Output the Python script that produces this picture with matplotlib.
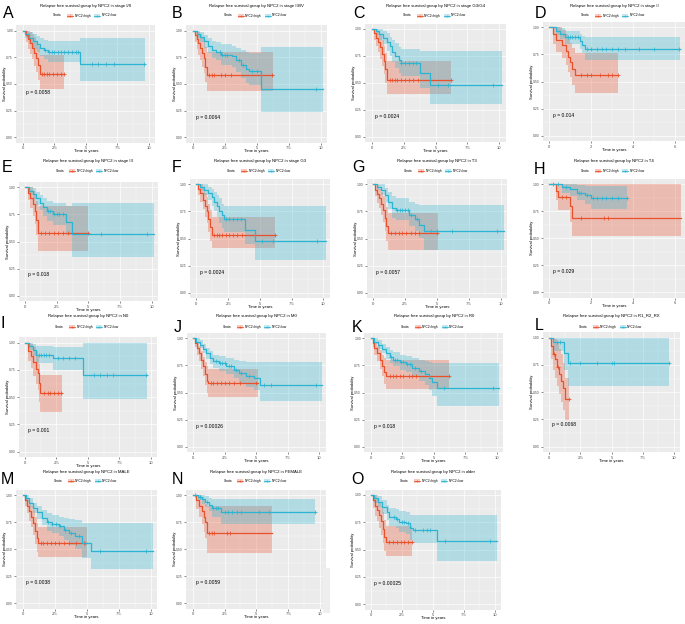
import numpy as np
import matplotlib.pyplot as plt
from matplotlib.patches import Rectangle

plt.rcParams['font.family'] = ['Liberation Sans', 'DejaVu Sans']

RED = '#E8512B'
BLUE = '#2BB5D3'
BG = '#EBEBEB'

letters = list('ABCDEFGHIJKLMNO')
subsets = ['stage I/II', 'stage III/IV', 'stage G3/G4', 'stage II', 'stage III', 'stage G3',
           'T3', 'T4', 'N0', 'M0', 'R0', 'R1_R2_RX', 'MALE', 'FEMALE', 'older']
pvals = ['0.0058', '0.0064', '0.0024', '0.014', '0.018', '0.0024', '0.0057', '0.029',
         '0.001', '0.00026', '0.018', '0.0068', '0.0038', '0.0059', '0.00025']
p_y = [0.42, 0.19, 0.19, 0.19, 0.20, 0.19, 0.19, 0.19, 0.195, 0.19, 0.19, 0.20, 0.19, 0.19, 0.19]
x_max = [10, 10, 10, 6, 10, 10, 10, 6, 10, 10, 10, 10, 10, 10, 10]

# each curve: rows of (time, survival, lower CI, upper CI); last row = end of follow-up
A_high = [(0, 1, 1, 1), (0.25, .96, .89, 1), (0.45, .92, .83, 1), (0.6, .88, .78, .99), (0.75, .84, .73, .97),
          (0.9, .79, .67, .94), (1.05, .74, .61, .9), (1.2, .68, .54, .86), (1.35, .59, .45, .77), (3.3, .59, .45, .77)]
A_high_cens = [1.5, 1.7, 1.9, 2.1, 2.4, 2.7, 3.0, 3.3]
A_low = [(0, 1, 1, 1), (0.2, .97, .93, 1), (0.5, .93, .87, .99), (0.8, .9, .83, .97), (1.1, .87, .8, .95),
         (1.4, .84, .76, .93), (1.7, .82, .73, .91), (2.0, .8, .71, .9), (4.55, .69, .53, .93), (9.7, .69, .53, .93)]
A_low_cens = [1.8, 2.1, 2.3, 2.5, 2.8, 3.0, 3.3, 3.6, 3.9, 4.2, 4.4, 5.5, 6.0, 6.6, 7.2, 9.6]

B_high = [(0, 1, 1, 1), (0.15, .96, .89, 1), (0.3, .92, .83, 1), (0.45, .88, .77, .99), (0.55, .84, .72, .97),
          (0.75, .79, .66, .94), (0.85, .74, .6, .91), (0.95, .66, .52, .85), (1.1, .58, .43, .8), (6.25, .58, .43, .8)]
B_high_cens = [1.3, 1.5, 1.7, 2.2, 2.5, 3.0, 6.2]
B_low = [(0, 1, 1, 1), (0.3, .97, .93, 1), (0.6, .94, .89, .99), (0.9, .9, .84, .96), (1.2, .86, .79, .93),
         (1.5, .82, .74, .9), (1.8, .8, .72, .89), (2.2, .77, .68, .87), (3.1, .76, .66, .86), (3.4, .72, .61, .84),
         (3.8, .68, .56, .82), (4.2, .64, .51, .8), (4.4, .62, .49, .79), (5.3, .45, .24, .85), (10.2, .45, .24, .85)]
B_low_cens = [2.1, 2.3, 2.5, 2.7, 3.6, 3.9, 4.6, 5.0, 9.6]

C_high = [(0, 1, 1, 1), (0.2, .96, .9, 1), (0.35, .92, .84, 1), (0.5, .88, .79, .98), (0.65, .83, .72, .95),
          (0.8, .77, .66, .9), (0.95, .7, .58, .84), (1.05, .63, .5, .78), (1.2, .53, .4, .7), (6.2, .53, .4, .7)]
C_high_cens = [1.4, 1.6, 1.8, 2.0, 2.3, 2.6, 2.9, 3.2, 3.6, 6.2]
C_low = [(0, 1, 1, 1), (0.3, .98, .94, 1), (0.6, .95, .9, 1), (0.9, .92, .86, .98), (1.2, .88, .8, .96),
         (1.4, .84, .75, .93), (1.6, .79, .69, .9), (1.8, .75, .64, .87), (2.1, .71, .59, .83), (2.3, .68, .56, .81),
         (3.8, .59, .45, .8), (4.6, .48, .3, .8), (10.2, .48, .3, .8)]
C_low_cens = [2.3, 2.6, 2.9, 3.2, 3.5, 5.2, 6.0, 9.5]

D_high = [(0, 1, 1, 1), (0.2, .94, .85, 1), (0.3, .88, .77, 1), (0.6, .84, .72, .98), (0.8, .78, .65, .94),
          (0.9, .73, .59, .9), (1.0, .68, .54, .86), (1.1, .62, .47, .81), (1.25, .56, .4, .76), (3.3, .56, .4, .76)]
D_high_cens = [1.5, 1.8, 2.0, 2.4, 2.8, 3.0, 3.3]
D_low = [(0, 1, 1, 1), (0.3, .97, .93, 1), (0.5, .94, .89, .99), (0.75, .91, .85, .97), (1.45, .87, .8, .94),
         (1.55, .84, .76, .92), (1.7, .8, .7, .91), (6.25, .8, .7, .91)]
D_low_cens = [0.9, 1.0, 1.1, 1.25, 1.35, 1.8, 2.0, 2.3, 2.5, 2.7, 3.0, 3.3, 3.6, 4.3, 5.0, 6.2]

E_high = [(0, 1, 1, 1), (0.2, .95, .88, 1), (0.4, .9, .81, 1), (0.6, .85, .74, .97), (0.75, .78, .66, .93),
          (0.9, .7, .56, .87), (1.0, .58, .41, .83), (5.0, .58, .41, .83)]
E_high_cens = [1.3, 1.6, 1.9, 2.3, 2.6, 3.0, 3.4, 5.0]
E_low = [(0, 1, 1, 1), (0.3, .97, .93, 1), (0.6, .94, .89, .99), (0.9, .9, .84, .96), (1.2, .86, .79, .93),
         (1.4, .82, .74, .9), (1.7, .78, .69, .87), (2.2, .75, .65, .86), (3.2, .68, .56, .83), (3.7, .57, .36, .86),
         (10.2, .57, .36, .86)]
E_low_cens = [1.8, 2.0, 2.3, 2.5, 2.7, 3.0, 6.0, 9.6]

F_high = [(0, 1, 1, 1), (0.15, .96, .9, 1), (0.3, .92, .84, 1), (0.5, .86, .77, .97), (0.65, .8, .7, .92),
          (0.8, .75, .64, .88), (0.95, .68, .56, .82), (1.05, .61, .48, .76), (1.2, .535, .41, .7), (6.2, .535, .41, .7)]
F_high_cens = [1.4, 1.6, 1.8, 2.0, 2.3, 2.6, 2.9, 3.2, 3.6, 6.2]
F_low = [(0, 1, 1, 1), (0.3, .98, .94, 1), (0.6, .95, .9, 1), (0.9, .92, .86, .98), (1.2, .88, .8, .96),
         (1.4, .84, .75, .93), (1.6, .8, .7, .9), (1.8, .75, .64, .87), (2.0, .72, .6, .82), (2.2, .68, .56, .8),
         (3.8, .58, .45, .8), (4.6, .48, .3, .8), (10.2, .48, .3, .8)]
F_low_cens = [2.3, 2.6, 2.9, 3.2, 3.5, 5.2, 6.0, 9.5]

G_high = [(0, 1, 1, 1), (0.15, .95, .89, 1), (0.3, .91, .83, .99), (0.45, .87, .78, .96), (0.6, .82, .72, .93),
          (0.75, .76, .65, .89), (0.9, .69, .57, .84), (1.05, .62, .48, .79), (1.15, .55, .4, .74), (5.1, .55, .4, .74)]
G_high_cens = [1.4, 1.7, 2.0, 2.3, 2.6, 3.0, 3.3, 3.6, 5.0]
G_low = [(0, 1, 1, 1), (0.3, .98, .95, 1), (0.6, .95, .9, 1), (0.9, .9, .84, .97), (1.2, .84, .77, .93),
         (1.5, .78, .69, .89), (1.8, .76, .67, .87), (2.8, .72, .62, .84), (3.3, .68, .57, .82), (3.6, .63, .51, .81),
         (4.0, .57, .4, .81), (10.2, .57, .4, .81)]
G_low_cens = [1.9, 2.1, 2.3, 2.5, 2.7, 3.0, 3.4, 4.5, 5.0, 6.2, 9.7]

H_high = [(0, 1, 1, 1), (0.3, .94, .85, 1), (0.4, .88, .76, 1), (1.0, .8, .65, 1), (1.1, .69, .52, 1), (6.3, .69, .52, 1)]
H_high_cens = [0.6, 0.8, 1.5, 2.6, 2.8]
H_low = [(0, 1, 1, 1), (0.6, .97, .92, 1), (1.0, .95, .89, 1), (1.3, .92, .85, .99), (1.7, .9, .82, .98),
         (2.0, .87, .77, .98), (3.7, .87, .77, .98)]
H_low_cens = [0.2, 0.4, 0.8, 1.4, 1.5, 1.8, 2.1, 2.3, 2.5, 2.7, 3.0, 3.3, 3.7]

I_high = [(0, 1, 1, 1), (0.25, .92, .83, 1), (0.45, .88, .77, .99), (0.65, .82, .69, .96), (0.85, .76, .62, .92),
          (1.0, .72, .57, .88), (1.1, .63, .46, .8), (1.2, .54, .36, .7), (2.95, .54, .36, .7)]
I_high_cens = [1.5, 1.8, 2.0, 2.3, 2.6, 2.9]
I_low = [(0, 1, 1, 1), (0.3, .97, .93, 1), (0.6, .93, .88, .99), (0.9, .89, .81, .97), (2.2, .86, .75, .96),
         (4.6, .7, .48, 1), (9.7, .7, .48, 1)]
I_low_cens = [1.1, 1.3, 1.5, 1.7, 1.9, 2.6, 3.0, 3.5, 4.0, 5.5, 6.0, 6.5, 7.0, 9.6]

J_high = [(0, 1, 1, 1), (0.15, .96, .92, 1), (0.3, .91, .85, .97), (0.45, .86, .79, .93), (0.6, .8, .72, .88),
          (0.75, .74, .65, .83), (0.9, .67, .57, .78), (1.05, .61, .5, .74), (1.2, .585, .46, .72), (5.1, .585, .46, .72)]
J_high_cens = [1.4, 1.6, 1.9, 2.2, 2.5, 2.8, 3.2, 3.7, 5.0]
J_low = [(0, 1, 1, 1), (0.25, .97, .95, 1), (0.5, .94, .91, .98), (0.75, .9, .86, .95), (1.0, .86, .81, .91),
         (1.3, .82, .76, .88), (1.6, .79, .73, .85), (2.0, .77, .7, .84), (2.6, .74, .67, .82), (3.2, .71, .63, .8),
         (3.6, .68, .59, .79), (4.2, .65, .55, .78), (4.8, .63, .52, .78), (5.3, .57, .42, .78), (10.2, .57, .42, .78)]
J_low_cens = [1.8, 2.1, 2.3, 2.5, 2.8, 3.0, 3.4, 3.8, 4.4, 5.6, 6.2, 9.7]

K_high = [(0, 1, 1, 1), (0.15, .96, .92, 1), (0.3, .91, .85, .97), (0.5, .86, .79, .93), (0.7, .8, .72, .89),
          (0.9, .74, .65, .85), (1.05, .69, .58, .82), (1.2, .65, .53, .8), (6.2, .65, .53, .8)]
K_high_cens = [1.5, 1.8, 2.0, 2.3, 2.6, 3.0, 3.3, 3.6, 4.6, 6.2]
K_low = [(0, 1, 1, 1), (0.3, .97, .95, 1), (0.6, .94, .9, .98), (0.9, .9, .86, .95), (1.2, .86, .81, .92),
         (1.5, .83, .77, .89), (1.8, .8, .74, .87), (2.3, .78, .71, .85), (2.8, .76, .69, .84), (3.3, .73, .65, .82),
         (3.8, .7, .61, .8), (4.3, .67, .57, .79), (4.6, .63, .52, .78), (4.9, .6, .47, .77), (5.3, .54, .38, .77),
         (10.2, .54, .38, .77)]
K_low_cens = [1.6, 1.9, 2.1, 2.4, 2.6, 2.9, 3.1, 3.5, 4.0, 5.8, 9.7]

L_high = [(0, 1, 1, 1), (0.15, .92, .8, 1), (0.3, .85, .7, 1), (0.5, .8, .63, .99), (0.65, .73, .56, .95),
          (0.8, .67, .48, .9), (0.95, .6, .41, .85), (1.1, .54, .34, .77), (1.3, .44, .24, .63), (1.6, .44, .24, .63)]
L_high_cens = [0.4, 0.7, 1.6]
L_low = [(0, 1, 1, 1), (0.3, .96, .88, 1), (1.2, .86, .7, 1), (1.5, .77, .56, 1), (9.6, .77, .56, 1)]
L_low_cens = [0.6, 0.9, 1.7, 2.5, 3.8, 5.0, 5.2, 9.6]

M_high = [(0, 1, 1, 1), (0.2, .95, .9, 1), (0.35, .9, .83, .97), (0.5, .85, .76, .94), (0.65, .8, .7, .9),
          (0.8, .74, .63, .86), (0.95, .67, .55, .8), (1.1, .6, .47, .74), (1.2, .56, .43, .7), (5.0, .56, .43, .7)]
M_high_cens = [1.4, 1.6, 1.9, 2.2, 2.5, 2.8, 3.2, 3.6, 4.2, 4.8]
M_low = [(0, 1, 1, 1), (0.25, .97, .94, 1), (0.5, .93, .89, .97), (0.8, .88, .83, .93), (1.1, .84, .78, .9),
         (1.5, .79, .72, .86), (1.9, .75, .67, .83), (2.3, .73, .65, .82), (2.8, .71, .62, .8), (3.2, .68, .58, .79),
         (3.6, .65, .54, .78), (4.1, .62, .5, .77), (4.6, .56, .42, .74), (5.3, .48, .32, .74), (10.2, .48, .32, .74)]
M_low_cens = [2.0, 2.3, 2.6, 2.9, 3.3, 3.8, 4.4, 4.9, 6.0, 9.6]

N_high = [(0, 1, 1, 1), (0.3, .95, .87, 1), (0.5, .9, .8, 1), (0.75, .85, .73, .98), (0.9, .8, .66, .95),
          (1.0, .75, .6, .92), (1.1, .65, .46, .9), (6.2, .65, .46, .9)]
N_high_cens = [1.3, 1.5, 1.7, 2.7, 2.9]
N_low = [(0, 1, 1, 1), (0.4, .98, .95, 1), (0.7, .96, .92, 1), (1.0, .94, .89, .99), (1.3, .91, .85, .97),
         (1.5, .88, .8, .96), (2.2, .84, .73, .96), (9.6, .84, .73, .96)]
N_low_cens = [0.2, 0.6, 1.1, 1.6, 1.8, 2.0, 2.5, 2.8, 3.1, 3.5, 3.8, 5.2, 6.0, 9.6]

O_high = [(0, 1, 1, 1), (0.2, .95, .88, 1), (0.35, .9, .81, 1), (0.5, .86, .76, .97), (0.65, .82, .7, .94),
          (0.8, .76, .63, .9), (0.95, .69, .56, .84), (1.1, .62, .49, .77), (1.25, .57, .44, .72), (3.3, .57, .44, .72)]
O_high_cens = [1.5, 1.8, 2.1, 2.4, 2.7, 3.0, 3.3]
O_low = [(0, 1, 1, 1), (0.3, .97, .93, 1), (0.6, .94, .89, .99), (0.9, .89, .83, .95), (1.3, .84, .77, .91),
         (1.5, .8, .72, .88), (2.0, .78, .7, .87), (2.3, .75, .66, .85), (2.8, .74, .64, .84), (3.2, .7, .59, .82),
         (3.4, .68, .56, .82), (5.3, .58, .4, .82), (10.2, .58, .4, .82)]
O_low_cens = [1.9, 2.1, 2.5, 2.7, 3.0, 3.6, 4.2, 4.5, 4.8, 6.0, 9.6]

curves = [(A_high, A_high_cens, A_low, A_low_cens), (B_high, B_high_cens, B_low, B_low_cens),
          (C_high, C_high_cens, C_low, C_low_cens), (D_high, D_high_cens, D_low, D_low_cens),
          (E_high, E_high_cens, E_low, E_low_cens), (F_high, F_high_cens, F_low, F_low_cens),
          (G_high, G_high_cens, G_low, G_low_cens), (H_high, H_high_cens, H_low, H_low_cens),
          (I_high, I_high_cens, I_low, I_low_cens), (J_high, J_high_cens, J_low, J_low_cens),
          (K_high, K_high_cens, K_low, K_low_cens), (L_high, L_high_cens, L_low, L_low_cens),
          (M_high, M_high_cens, M_low, M_low_cens), (N_high, N_high_cens, N_low, N_low_cens),
          (O_high, O_high_cens, O_low, O_low_cens)]

# layout in pixels: grey panel box (left, top, right, bottom)
boxes = [(16.4, 25.3, 155.3, 142.6), (186.3, 25.3, 327.1, 142.6), (365.3, 23.6, 505.8, 142.1), (542.8, 21.9, 685.7, 141.4),
         (18.7, 181.9, 158, 301.4), (190, 178.9, 329.8, 298.4), (366.6, 178.9, 507.4, 298.4), (542.8, 178.6, 685.7, 297.7),
         (18.7, 337.2, 157, 457.1), (187, 332.9, 325.6, 452.1), (364.4, 332.9, 503, 452.1), (543, 332.2, 680.2, 452.1),
         (16.3, 489.6, 157.1, 608.7), (186.3, 489.6, 326.4, 608.7), (364.5, 489.5, 501.2, 609.8)]
letter_pos = [(8, 14), (177, 14), (359, 14), (541, 14), (7, 168), (177, 167), (359, 167), (540, 169),
              (3, 323), (178, 327), (357, 327), (539, 326), (7, 480), (177, 480), (357, 480)]
title_y = [6, 161, 316, 472]
legend_y = [15.5, 171, 327, 481]

W, H = 685, 624
fig = plt.figure(figsize=(W / 100, H / 100), dpi=100)


def draw_curve(ax, rows, cens, color):
    t = np.array([r[0] for r in rows])
    s = np.array([r[1] for r in rows])
    lo = np.array([r[2] for r in rows])
    hi = np.array([r[3] for r in rows])
    ax.fill_between(t, lo, hi, step='post', color=color, alpha=0.3, lw=0)
    ax.step(t, s, where='post', color=color, lw=0.9)
    idx = np.searchsorted(t, cens, side='right') - 1
    ax.plot(cens, s[idx], '+', color=color, ms=2.4, mew=0.55)


for i in range(15):
    l, t, r, b = boxes[i]
    ax = fig.add_axes([l / W, 1 - b / H, (r - l) / W, (b - t) / H])
    ax.set_facecolor(BG)
    X = x_max[i]
    xmx = 10.0 if X == 10 else 6.2
    ax.set_xlim(-0.05 * xmx, 1.05 * xmx)
    ax.set_ylim(-0.05, 1.05)
    if X == 10:
        ax.set_xticks([0, 2.5, 5, 7.5, 10])
        ax.set_xticklabels(['0', '2.5', '5', '7.5', '10'])
        ax.set_xticks([1.25, 3.75, 6.25, 8.75], minor=True)
    else:
        ax.set_xticks([0, 2, 4, 6])
        ax.set_xticks([1, 3, 5], minor=True)
    ax.set_yticks([0, 0.25, 0.5, 0.75, 1.0])
    ax.set_yticklabels(['0.00', '0.25', '0.50', '0.75', '1.00'])
    ax.set_yticks([0.125, 0.375, 0.625, 0.875], minor=True)
    ax.grid(True, which='major', color='white', lw=0.5)
    ax.grid(True, which='minor', color='white', lw=0.25)
    ax.set_axisbelow(True)
    for sp in ax.spines.values():
        sp.set_visible(False)
    ax.tick_params(which='major', length=1.5, width=0.4, color='#333333', pad=1,
                   labelsize=2.4, labelcolor='#4D4D4D')
    ax.tick_params(which='minor', length=0)
    ax.tick_params(axis='x', labelsize=3.0)

    hi_rows, hi_cens, lo_rows, lo_cens = curves[i]
    draw_curve(ax, hi_rows, hi_cens, RED)
    draw_curve(ax, lo_rows, lo_cens, BLUE)
    ax.text(0.025 * xmx, p_y[i], 'p = ' + pvals[i], fontsize=3.6, ha='left', va='center')

# overlay in pixel units for panel letters, titles, legends and axis labels
ov = fig.add_axes([0, 0, 1, 1])
ov.set_xlim(0, W)
ov.set_ylim(H, 0)
ov.axis('off')

for i in range(15):
    l, t, r, b = boxes[i]
    row = i // 4
    cx = (l + r) / 2
    ov.text(*letter_pos[i], letters[i], fontsize=11.5, ha='center', va='center')
    ov.text(cx, title_y[row], 'Relapse free survival group by NPC2 in ' + subsets[i],
            fontsize=3.1, ha='center', va='center')
    ov.text(cx, b + 8.5, 'Time in years', fontsize=3.0, ha='center', va='center')
    ov.text(l - 11, (t + b) / 2, 'Survival probability', fontsize=3.0, rotation=90,
            ha='center', va='center')
    ly = legend_y[row]
    lx = cx - 33
    ov.text(lx, ly, 'Strata', fontsize=2.3, ha='left', va='center')
    for k, (col, name) in enumerate([(RED, 'NPC2=high'), (BLUE, 'NPC2=low')]):
        bx = lx + 14 + k * 27
        ov.add_patch(Rectangle((bx, ly - 2), 6, 4, facecolor=col, alpha=0.3, lw=0))
        ov.plot([bx, bx + 6], [ly, ly], color=col, lw=0.6)
        ov.plot([bx + 3], [ly], '+', color=col, ms=2, mew=0.4)
        ov.text(bx + 7.5, ly, name, fontsize=2.3, ha='left', va='center')

# faint grey block beside panel N, as in the source image
ov.add_patch(Rectangle((323, 568), 7, 45, facecolor='#EEEEEE', lw=0))

fig.savefig('out.png', dpi=100, facecolor='white')
